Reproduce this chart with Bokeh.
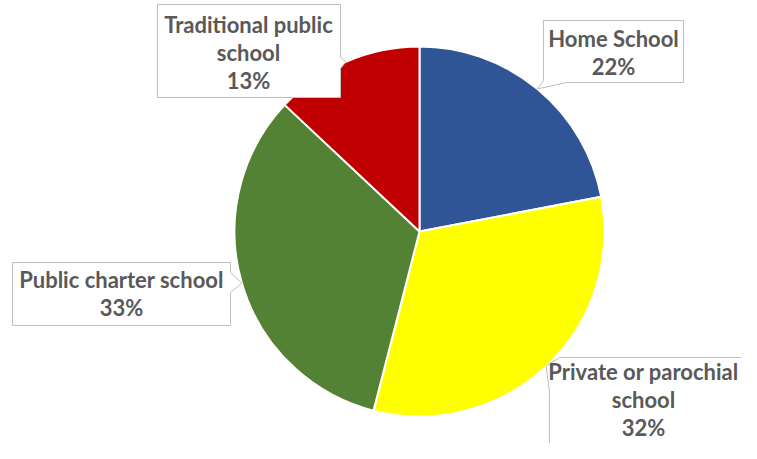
import numpy as np
from bokeh.plotting import figure
from bokeh.models import Range1d, ColumnDataSource
from bokeh.core.properties import value
from bokeh.embed import file_html
from bokeh.resources import INLINE

# ---- data ----
categories = ["Home School", "Private or parochial school", "Public charter school", "Traditional public school"]
label_lines = [["Home School"], ["Private or parochial", "school"], ["Public charter school"], ["Traditional public", "school"]]
shares = [22, 32, 33, 13]
colors = ["#2F5597", "#FFFF00", "#548235", "#C00000"]

# ---- layout (picture pixel coords, y down) ----
W, H = 741, 443
CX, CY, R = 419, 231, 185

def Y(yi):
    return H - yi

p = figure(width=W, height=H, output_backend="svg", toolbar_location=None,
           x_axis_type=None, y_axis_type=None, min_border=0,
           x_range=Range1d(0, W), y_range=Range1d(0, H))
p.outline_line_color = None
p.grid.visible = False
p.background_fill_color = "white"
p.border_fill_color = "white"

total = float(sum(shares))
fr = np.array(shares) / total
cum = np.concatenate([[0], np.cumsum(fr)])
start = np.pi / 2 - 2 * np.pi * cum[:-1]
end = np.pi / 2 - 2 * np.pi * cum[1:]
mid = np.pi / 2 - 2 * np.pi * (cum[:-1] + fr / 2)

src = ColumnDataSource(dict(cat=categories, start=start, end=end, color=colors))
p.wedge(x=CX, y=Y(CY), radius=R, start_angle="start", end_angle="end", direction="clock",
        fill_color="color", line_color="white", line_width=2, source=src)

tips = [(CX + R * np.cos(a), CY - R * np.sin(a)) for a in mid]

# callout boxes: polygon points before tip, after tip; base = first text baseline
box_layout = [
    dict(pre=[(683, 20), (683, 82), (566, 82)], post=[(543, 80), (543, 20)], cx=613, base=46),
    dict(pre=[(800, 357), (800, 520), (549, 520), (549, 392)], post=[(559, 357)], cx=643, base=379),
    dict(pre=[(12, 262), (230, 262), (230, 272)], post=[(230, 292), (230, 325), (12, 325)], cx=121, base=287),
    dict(pre=[(157, 4), (340, 4), (340, 57)], post=[(340, 68), (340, 97), (157, 97)], cx=248, base=32),
]

LINE_H = 28
HALF_CAP = 8
tx, ty, tt = [], [], []
for i, lay in enumerate(box_layout):
    pts = lay["pre"] + [tips[i]] + lay["post"]
    p.patch([q[0] for q in pts], [Y(q[1]) for q in pts], fill_color="white",
            line_color="#BFBFBF", line_width=1)
    lines = label_lines[i] + [f"{round(fr[i] * 100):.0f}%"]
    for k, ln in enumerate(lines):
        tx.append(lay["cx"])
        ty.append(Y(lay["base"] + k * LINE_H - HALF_CAP))
        tt.append(ln)

p.text(x=tx, y=ty, text=tt, text_align="center", text_baseline="middle",
       text_font=value("Lato"), text_font_style="bold", text_font_size="22px",
       text_color="#595959")

open("out.html", "w").write(file_html(p, INLINE))
